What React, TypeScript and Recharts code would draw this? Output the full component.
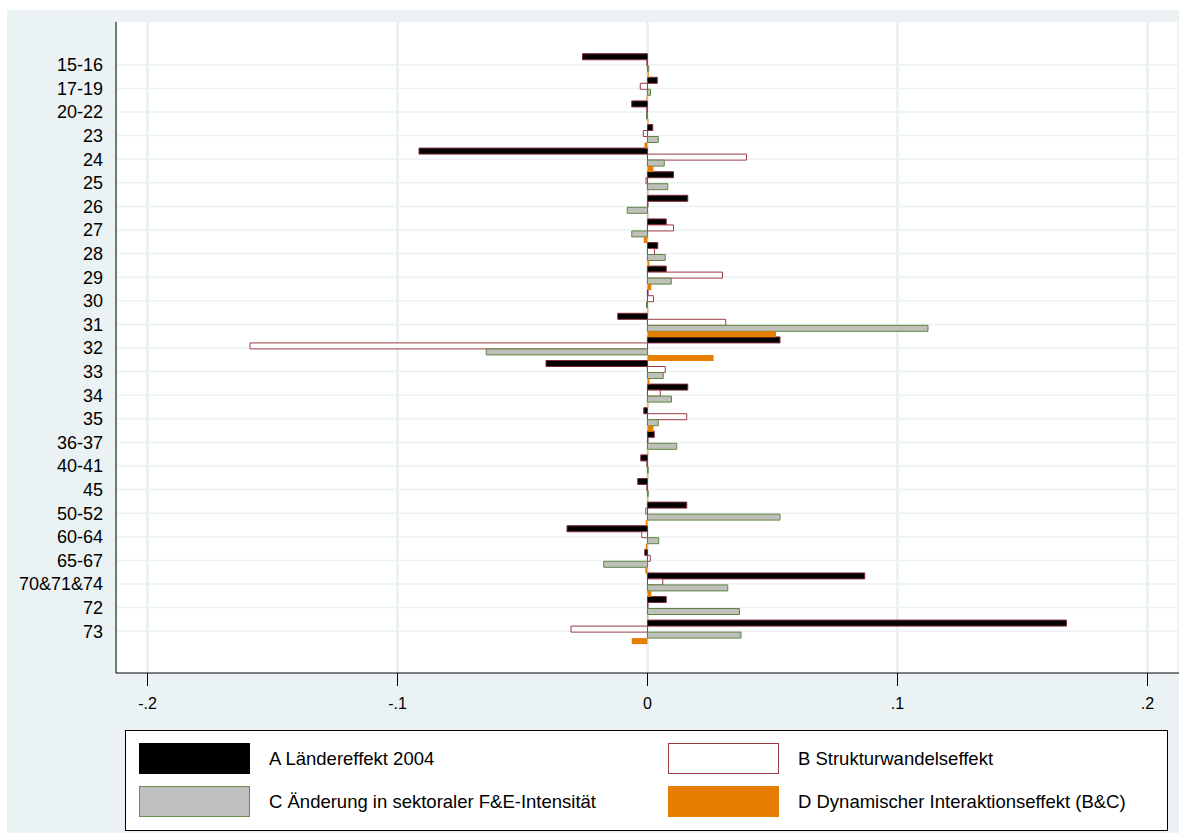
import React from "react";
import { BarChart, Bar, XAxis, YAxis, CartesianGrid } from "recharts";

const categories = [
  "15-16", "17-19", "20-22", "23", "24", "25", "26", "27", "28", "29", "30", "31", "32",
  "33", "34", "35", "36-37", "40-41", "45", "50-52", "60-64", "65-67", "70&71&74", "72", "73",
];

// A Ländereffekt 2004
const laendereffekt = [
  -0.026, 0.0039, -0.0063, 0.0021, -0.0914, 0.0104, 0.0161, 0.0075, 0.0041, 0.0075, 0.0002, -0.0119, 0.053,
  -0.0406, 0.0161, -0.0015, 0.0027, -0.0027, -0.0039, 0.0157, -0.0322, -0.0011, 0.0869, 0.0075, 0.1676,
];
// B Strukturwandelseffekt
const strukturwandel = [
  -0.0003, -0.0029, -0.0003, -0.0017, 0.0396, -0.0006, 0.0002, 0.0104, 0.0028, 0.03, 0.0024, 0.0313, -0.159,
  0.0071, 0.0051, 0.0157, 0.0002, -0.0003, -0.0003, -0.0007, -0.0023, 0.0011, 0.0061, 0.0002, -0.0306,
];
// C Änderung in sektoraler F&E-Intensität
const feIntensitaet = [
  0.0005, 0.0012, -0.0004, 0.0043, 0.0067, 0.0081, -0.0081, -0.0063, 0.0071, 0.0095, -0.0004, 0.1122, -0.0645,
  0.0063, 0.0096, 0.0043, 0.0117, 0.0003, 0.0003, 0.053, 0.0045, -0.0175, 0.0321, 0.0368, 0.0374,
];
// D Dynamischer Interaktionseffekt (B&C)
const interaktion = [
  0.0005, -0.0004, 0.0004, -0.0012, 0.0024, 0.0003, 0.0003, -0.0015, 0.0007, 0.0015, 0.0003, 0.0514, 0.0264,
  0.0008, 0.0003, 0.0024, 0.0003, 0.0003, 0.0003, -0.0007, -0.0007, -0.0009, 0.0015, 0.0003, -0.0063,
];

const xTicks = [-0.2, -0.1, 0, 0.1, 0.2];
const xTickLabels = ["-.2", "-.1", "0", ".1", ".2"];

const legendItems = [
  { label: "A Ländereffekt 2004", fill: "#000000", border: "#000000" },
  { label: "B Strukturwandelseffekt", fill: "#ffffff", border: "#9b3a44" },
  { label: "C Änderung in sektoraler F&E-Intensität", fill: "#c0c0c0", border: "#6b8c4a" },
  { label: "D Dynamischer Interaktionseffekt (B&C)", fill: "#e67e00", border: "#e67e00" },
];

const data = categories.map((cat, i) => ({
  cat,
  A: laendereffekt[i],
  B: strukturwandel[i],
  C: feIntensitaet[i],
  D: interaktion[i],
}));

const FONT = '"Liberation Sans", Arial, sans-serif';
const BG = "#eaf2f3";

// grid lines through the middle of each category band
const rowCenters = ({ yAxis }: any) => {
  try {
    const s = yAxis?.scale;
    if (!s) return [];
    const bw = typeof s.bandwidth === "function" ? s.bandwidth() : 0;
    const pos = (c: string) => (typeof s === "function" ? s(c) : s.map(c));
    return categories.map((c) => pos(c) + bw / 2).filter((v) => Number.isFinite(v));
  } catch (e) {
    return [];
  }
};

export default function App() {
  return (
    <div
      style={{
        position: "absolute",
        left: 0,
        top: 0,
        width: 1179,
        height: 833,
        background: "#fff",
        overflow: "hidden",
        fontFamily: FONT,
      }}
    >
      <div style={{ position: "absolute", left: 7, top: 10, width: 1172, height: 823, background: BG }}>
        <BarChart
          width={1172}
          height={823}
          data={data}
          layout="vertical"
          margin={{ top: 12, right: 0, bottom: 120, left: 0 }}
          barCategoryGap="3%"
          barGap={0}
        >
          <CartesianGrid fill="#fff" stroke={BG} strokeWidth={1.5} vertical={false}
            horizontalCoordinatesGenerator={rowCenters} />
          <CartesianGrid stroke={BG} strokeWidth={3} horizontal={false} />
          <XAxis
            type="number"
            domain={[-0.2126, 0.2126]}
            allowDataOverflow
            ticks={xTicks}
            tickFormatter={(v: number) => xTickLabels[xTicks.indexOf(v)] ?? String(v)}
            axisLine={{ stroke: "#000" }}
            tickLine={{ stroke: "#000" }}
            tickSize={13}
            tickMargin={12}
            height={40}
            tick={{ fontSize: 16, fill: "#000", fontFamily: FONT }}
          />
          <YAxis
            type="category"
            dataKey="cat"
            width={109}
            interval={0}
            padding={{ top: 31, bottom: 30 }}
            tickLine={false}
            tickSize={6}
            tickMargin={7}
            axisLine={{ stroke: "#000" }}
            tick={{ fontSize: 18, fill: "#000", fontFamily: FONT }}
          />
          <Bar dataKey="A" fill="#000" stroke="#7e2a36" strokeWidth={1} isAnimationActive={false} />
          <Bar dataKey="B" fill="#fff" stroke="#9b3a44" strokeWidth={1} isAnimationActive={false} />
          <Bar dataKey="C" fill="#c0c0bb" stroke="#5e8542" strokeWidth={1} isAnimationActive={false} />
          <Bar dataKey="D" fill="#e67e00" isAnimationActive={false} />
        </BarChart>

        <div
          style={{
            position: "absolute",
            left: 118,
            top: 720,
            width: 1041,
            height: 99,
            background: "#fff",
            border: "1px solid #000",
          }}
        >
          {legendItems.map((item, i) => {
            const col = i % 2;
            const row = Math.floor(i / 2);
            return (
              <div
                key={item.label}
                style={{ position: "absolute", left: col === 0 ? 13 : 542, top: row === 0 ? 12 : 55 }}
              >
                <div
                  style={{
                    position: "absolute",
                    left: 0,
                    top: 0,
                    width: 109,
                    height: 29,
                    background: item.fill,
                    border: `1px solid ${item.border}`,
                  }}
                />
                <div
                  style={{
                    position: "absolute",
                    left: 130,
                    top: 5,
                    whiteSpace: "nowrap",
                    fontSize: 18.5,
                    lineHeight: "22px",
                    color: "#000",
                  }}
                >
                  {item.label}
                </div>
              </div>
            );
          })}
        </div>
      </div>
    </div>
  );
}
